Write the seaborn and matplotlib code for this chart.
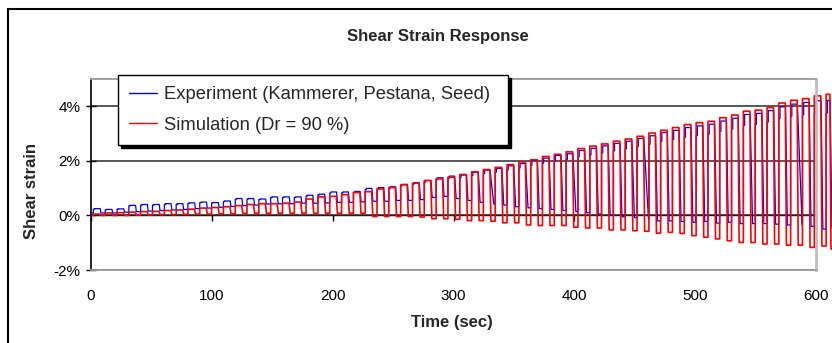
import numpy as np
import pandas as pd
import matplotlib
matplotlib.use("Agg")
import matplotlib.pyplot as plt
import seaborn as sns
from matplotlib.patches import Rectangle
from matplotlib.ticker import FuncFormatter

# ---------------- data ----------------
cycle_start = [2.0, 11.8, 21.6, 31.3, 41.1, 50.9, 60.7, 70.5, 80.2, 90.0,
               99.8, 109.6, 119.4, 129.1, 138.9, 148.7, 158.5, 168.3, 178.0, 187.8,
               197.6, 207.4, 217.2, 226.9, 236.7, 246.5, 256.3, 266.1, 275.8, 285.6,
               295.4, 305.2, 315.0, 324.7, 334.5, 344.3, 354.1, 363.9, 373.6, 383.4,
               393.2, 403.0, 412.8, 422.5, 432.3, 442.1, 451.9, 461.7, 471.4, 481.2,
               491.0, 500.8, 510.6, 520.3, 530.1, 539.9, 549.7, 559.5, 569.2, 579.0,
               588.8, 598.6, 608.4]
record_end = 614.0

# simulation (Dr = 90 %): strain (%) at top and bottom of each cycle
sim_peak = [0.05, 0.09, 0.10, 0.12, 0.14, 0.15, 0.18, 0.20, 0.23, 0.27,
            0.29, 0.32, 0.36, 0.40, 0.43, 0.43, 0.45, 0.49, 0.60, 0.68,
            0.70, 0.76, 0.84, 0.87, 0.97, 1.02, 1.12, 1.18, 1.28, 1.34,
            1.40, 1.50, 1.60, 1.68, 1.76, 1.86, 1.96, 2.04, 2.16, 2.24,
            2.33, 2.45, 2.54, 2.62, 2.72, 2.80, 2.90, 3.02, 3.12, 3.22,
            3.33, 3.40, 3.45, 3.58, 3.68, 3.82, 3.86, 3.95, 4.12, 4.22,
            4.28, 4.38, 4.44]
sim_trough = [0.00, 0.00, 0.00, 0.01, 0.02, 0.03, 0.03, 0.04, 0.05, 0.05,
              0.06, 0.06, 0.07, 0.08, 0.08, 0.08, 0.08, 0.08, 0.08, 0.08,
              0.08, 0.08, 0.08, -0.04, -0.04, -0.04, -0.04, -0.06, -0.12, -0.12,
              -0.14, -0.19, -0.19, -0.21, -0.27, -0.27, -0.35, -0.37, -0.37, -0.37,
              -0.43, -0.46, -0.46, -0.53, -0.53, -0.56, -0.58, -0.65, -0.62, -0.66,
              -0.74, -0.80, -0.86, -0.93, -0.99, -0.99, -1.05, -1.05, -1.09, -1.09,
              -1.17, -1.12, -1.23]

# experiment (Kammerer, Pestana, Seed)
exp_peak = [0.25, 0.22, 0.24, 0.37, 0.40, 0.40, 0.43, 0.43, 0.46, 0.49,
            0.47, 0.53, 0.62, 0.62, 0.60, 0.68, 0.68, 0.68, 0.74, 0.78,
            0.86, 0.86, 0.88, 0.99, 1.02, 1.05, 1.14, 1.20, 1.28, 1.38,
            1.44, 1.48, 1.58, 1.66, 1.72, 1.82, 1.90, 2.02, 2.10, 2.20,
            2.26, 2.38, 2.46, 2.55, 2.64, 2.72, 2.82, 2.92, 3.04, 3.12,
            3.22, 3.28, 3.34, 3.46, 3.56, 3.70, 3.74, 3.84, 3.98, 4.08,
            4.14, 4.20, 4.22]
exp_trough = [0.09, 0.09, 0.12, 0.14, 0.16, 0.18, 0.20, 0.22, 0.25, 0.27,
              0.30, 0.33, 0.36, 0.38, 0.42, 0.43, 0.43, 0.45, 0.45, 0.46,
              0.48, 0.48, 0.50, 0.52, 0.52, 0.55, 0.55, 0.58, 0.66, 0.70,
              0.62, 0.55, 0.48, 0.42, 0.38, 0.32, 0.28, 0.25, 0.22, 0.18,
              0.14, 0.10, 0.05, 0.00, -0.05, -0.08, -0.15, -0.20, -0.20, -0.22,
              -0.25, -0.22, -0.28, -0.25, -0.30, -0.30, -0.30, -0.32, -0.35, -0.35,
              -0.40, -0.50, -0.45]
# duration (s) of the experiment's unloading branch in each cycle
exp_fall = [0.6, 0.6, 0.6, 0.6, 0.6, 0.6, 0.6, 0.6, 0.6, 0.6,
            0.6, 0.6, 0.6, 0.6, 0.6, 0.6, 0.6, 0.6, 0.6, 0.6,
            0.8, 0.8, 0.8, 0.8, 0.8, 0.8, 1.0, 1.0, 1.0, 1.0,
            1.2, 1.2, 1.5, 3.0, 1.5, 1.5, 2.0, 1.5, 1.5, 1.5,
            2.5, 1.5, 1.5, 1.5, 1.5, 2.0, 4.0, 1.5, 1.5, 1.5,
            1.5, 1.5, 1.5, 1.5, 1.5, 2.0, 1.5, 1.5, 1.5, 4.0,
            1.5, 1.5, 1.5]

exp_label = "Experiment (Kammerer, Pestana, Seed)"
sim_label = "Simulation (Dr = 90 %)"

# ---------------- build the step paths from the cycle values ----------------
rows = []
n = len(cycle_start)
rows.append((0.0, sim_trough[0], sim_label))
rows.append((0.0, exp_trough[0], exp_label))
for k in range(n):
    s = cycle_start[k]
    e = cycle_start[k + 1] if k + 1 < n else record_end
    d = e - s
    prev_s = sim_trough[k - 1] if k > 0 else sim_trough[0]
    prev_e = exp_trough[k - 1] if k > 0 else exp_trough[0]
    # simulation: square loop
    f = s + 0.55 * d
    rows += [(s, prev_s, sim_label), (s, sim_peak[k], sim_label),
             (f, sim_peak[k], sim_label), (f + 0.9, sim_trough[k], sim_label),
             (e, sim_trough[k], sim_label)]
    # experiment
    mid = exp_peak[k] - 0.1 * (exp_peak[k] - exp_trough[k])
    fe = f + 0.2
    rows += [(s, prev_e, exp_label), (s, mid, exp_label), (s + 1.0, mid, exp_label),
             (s + 1.0, exp_peak[k], exp_label), (fe, exp_peak[k], exp_label),
             (min(fe + exp_fall[k], e - 0.3), exp_trough[k], exp_label),
             (e, exp_trough[k], exp_label)]

df = pd.DataFrame(rows, columns=["t", "strain", "series"])

# ---------------- figure ----------------
sns.set_style("white")
plt.rcParams["font.family"] = ["Liberation Sans", "DejaVu Sans"]

W, H = 832, 343
fig = plt.figure(figsize=(W / 100, H / 100), dpi=100)
ax = fig.add_axes([91 / W, 1 - 270 / H, (816 - 91) / W, (270 - 79) / H])

sns.lineplot(data=df, x="t", y="strain", hue="series", hue_order=[exp_label, sim_label],
             palette={exp_label: "#0000ff", sim_label: "#ff0000"},
             sort=False, estimator=None, legend=False, ax=ax)
blue_line, red_line = ax.lines[0], ax.lines[1]
blue_line.set_linewidth(0.9)
red_line.set_linewidth(1.2)
for ln in (blue_line, red_line):
    ln.set_clip_on(False)

ax.set_xlim(0, 600)
ax.set_ylim(-2, 5)
ax.set_xticks(range(0, 601, 100))
ax.set_yticks([-2, 0, 2, 4])
ax.yaxis.set_major_formatter(FuncFormatter(lambda v, p: f"{v:.0f}%"))
ax.set_xlabel("")
ax.set_ylabel("")
ax.grid(axis="y", color="#2a2a2a", linewidth=1.1)
ax.set_axisbelow(True)

ax.tick_params(axis="x", length=0, pad=14, labelsize=11, colors="black")
ax.tick_params(axis="y", direction="inout", length=7, width=1, pad=4,
               labelsize=11, colors="black", left=True)

for side in ("top", "bottom"):
    ax.spines[side].set_color("#9a9a9a")
    ax.spines[side].set_linewidth(1.3)
ax.spines["right"].set_color("#bdbdbd")
ax.spines["right"].set_linewidth(2)
ax.spines["left"].set_color("black")
ax.spines["left"].set_linewidth(1.2)

# category axis crossing at 0 %
sec = ax.secondary_xaxis(2 / 7)
sec.set_xticks(range(0, 601, 100))
sec.tick_params(direction="out", length=4, width=1, color="black",
                labelbottom=False, labeltop=False)
sec.spines["bottom"].set_color("black")
sec.spines["bottom"].set_linewidth(1.0)

# legend
leg = ax.legend(handles=[blue_line, red_line], labels=[exp_label, sim_label],
                loc="upper left",
                bbox_to_anchor=(118 / W, 1 - 143 / H, (508 - 118) / W, (143 - 75) / H),
                bbox_transform=fig.transFigure, mode="expand",
                fontsize=13.2, frameon=True, fancybox=False,
                shadow={"color": "black", "alpha": 1},
                borderpad=0.6, labelspacing=0.75, handlelength=1.55,
                handletextpad=0.35, borderaxespad=0)
leg.get_frame().set_edgecolor("black")
leg.get_frame().set_linewidth(1.0)
for h in leg.legend_handles:
    h.set_linewidth(1.0)

# texts
fig.text(438 / W, 1 - 37 / H, "Shear Strain Response", ha="center", va="center",
         fontsize=12, fontweight="bold")
fig.text(452 / W, 1 - 323 / H, "Time (sec)", ha="center", va="center",
         fontsize=12, fontweight="bold")
fig.text(32 / W, 1 - 191 / H, "Shear strain", ha="center", va="center",
         rotation=90, fontsize=12, fontweight="bold")

# chart-area border (continues beyond the cropped right and bottom edges)
fig.patches.append(Rectangle((8 / W, -0.5), 2.0, 1.5 - 9 / H, fill=False,
                             edgecolor="black", linewidth=1.5,
                             transform=fig.transFigure, figure=fig))

fig.savefig("out.png", dpi=100)
